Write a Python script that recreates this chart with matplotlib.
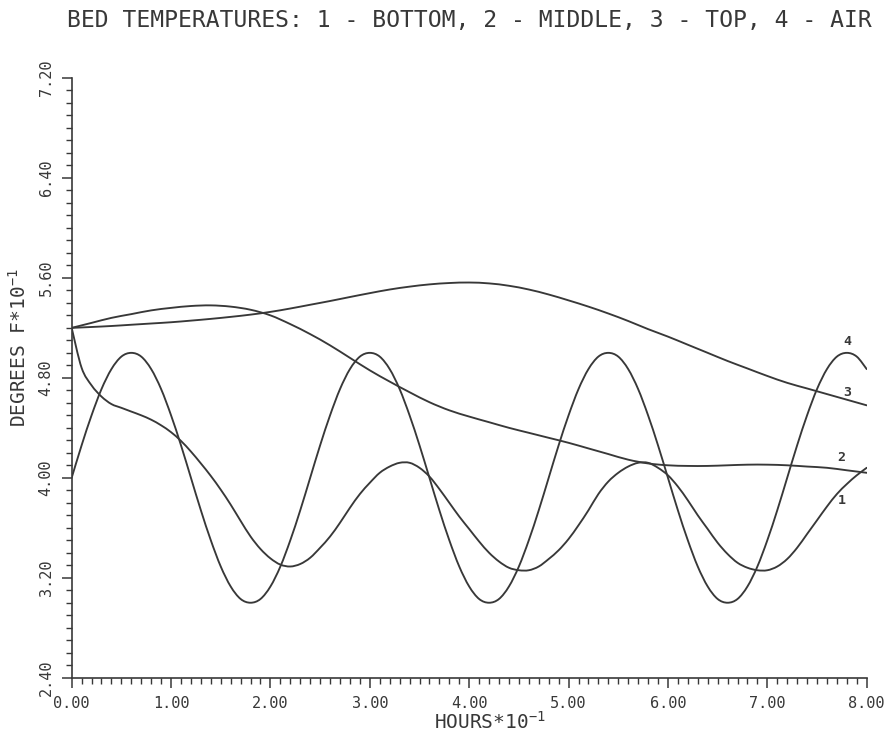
import numpy as np
import matplotlib
matplotlib.use("Agg")
import matplotlib.pyplot as plt
from matplotlib.ticker import MultipleLocator, FormatStrFormatter
from matplotlib.path import Path
from matplotlib.patches import PathPatch

# ---- data ----
hours_fine = [round(0.1 * i, 1) for i in range(81)]
hours_coarse = [round(0.2 * i, 1) for i in range(41)]

bottom = [5.20, 4.88, 4.74, 4.65, 4.59, 4.56, 4.53, 4.50, 4.465, 4.42,
          4.365, 4.295, 4.21, 4.115, 4.015, 3.905, 3.785, 3.655, 3.53, 3.43,
          3.355, 3.305, 3.29, 3.31, 3.36, 3.44, 3.53, 3.64, 3.76, 3.87,
          3.96, 4.04, 4.09, 4.12, 4.12, 4.08, 4.01, 3.91, 3.80, 3.69,
          3.59, 3.49, 3.40, 3.33, 3.28, 3.26, 3.26, 3.29, 3.35, 3.42,
          3.51, 3.62, 3.74, 3.87, 3.97, 4.04, 4.09, 4.12, 4.12, 4.08,
          4.02, 3.93, 3.82, 3.70, 3.59, 3.48, 3.39, 3.32, 3.28, 3.26,
          3.26, 3.29, 3.35, 3.44, 3.55, 3.66, 3.77, 3.87, 3.95, 4.02,
          4.08]

middle = [5.20, 5.24, 5.28, 5.31, 5.34, 5.36, 5.375, 5.38, 5.37, 5.345,
          5.30, 5.23, 5.15, 5.06, 4.96, 4.86, 4.77, 4.685, 4.605, 4.54,
          4.49, 4.445, 4.40, 4.36, 4.32, 4.28, 4.235, 4.19, 4.145, 4.115,
          4.10, 4.095, 4.095, 4.10, 4.105, 4.105, 4.10, 4.09, 4.08, 4.06,
          4.04]

top = [5.20, 5.207, 5.215, 5.225, 5.235, 5.245, 5.258, 5.272, 5.288, 5.306,
       5.328, 5.355, 5.385, 5.415, 5.447, 5.478, 5.507, 5.53, 5.548, 5.559,
       5.563, 5.556, 5.537, 5.507, 5.467, 5.42, 5.37, 5.315, 5.255, 5.19,
       5.13, 5.065, 5.00, 4.935, 4.875, 4.815, 4.76, 4.715, 4.67, 4.625,
       4.58]

air = [4.00, 4.26, 4.50, 4.71, 4.87, 4.97, 5.00, 4.97, 4.87, 4.71,
       4.50, 4.26, 4.00, 3.74, 3.50, 3.29, 3.13, 3.03, 3.00, 3.03,
       3.13, 3.29, 3.50, 3.74, 4.00, 4.26, 4.50, 4.71, 4.87, 4.97,
       5.00, 4.97, 4.87, 4.71, 4.50, 4.26, 4.00, 3.74, 3.50, 3.29,
       3.13, 3.03, 3.00, 3.03, 3.13, 3.29, 3.50, 3.74, 4.00, 4.26,
       4.50, 4.71, 4.87, 4.97, 5.00, 4.97, 4.87, 4.71, 4.50, 4.26,
       4.00, 3.74, 3.50, 3.29, 3.13, 3.03, 3.00, 3.03, 3.13, 3.29,
       3.50, 3.74, 4.00, 4.26, 4.50, 4.71, 4.87, 4.97, 5.00, 4.97,
       4.87]

curve_labels = ["1", "2", "3", "4"]
label_x = [7.75, 7.74, 7.80, 7.80]
label_y = [3.82, 4.16, 4.68, 5.09]

title = "BED TEMPERATURES: 1 - BOTTOM, 2 - MIDDLE, 3 - TOP, 4 - AIR"
xlabel = r"HOURS*10$^{\mathregular{-1}}$"
ylabel = r"DEGREES F*10$^{\mathregular{-1}}$"

# ---- figure ----
ink = "#383838"
mono = "DejaVu Sans Mono"
fig = plt.figure(figsize=(8.96, 7.40), dpi=100)
ax = fig.add_axes([0.080, 0.0842, 0.8873, 0.8104])


def smooth_path(xs, ys):
    """Smooth (Catmull-Rom style) Bezier path passing through the data points."""
    p = np.column_stack([xs, ys]).astype(float)
    n = len(p)
    verts = [p[0]]
    codes = [Path.MOVETO]
    for i in range(n - 1):
        p0 = p[i - 1] if i > 0 else p[i]
        p1 = p[i]
        p2 = p[i + 1]
        p3 = p[i + 2] if i + 2 < n else p[i + 1]
        c1 = p1 + (p2 - p0) / 6.0
        c2 = p2 - (p3 - p1) / 6.0
        verts += [c1, c2, p2]
        codes += [Path.CURVE4] * 3
    return Path(verts, codes)


lw = 1.35
for xs, ys in [(hours_fine, bottom), (hours_coarse, middle),
               (hours_coarse, top), (hours_fine, air)]:
    ax.add_patch(PathPatch(smooth_path(xs, ys), fill=False, edgecolor=ink,
                           lw=lw, transform=ax.transData,
                           capstyle="round", joinstyle="round"))

for t, x, y in zip(curve_labels, label_x, label_y):
    ax.text(x, y, t, fontsize=9.5, color=ink, ha="center", va="center",
            family=mono, fontweight="bold")

ax.set_xlim(0, 8)
ax.set_ylim(2.4, 7.2)
ax.xaxis.set_major_locator(MultipleLocator(1.0))
ax.xaxis.set_minor_locator(MultipleLocator(0.1))
ax.yaxis.set_major_locator(MultipleLocator(0.8))
ax.yaxis.set_minor_locator(MultipleLocator(0.1))
ax.xaxis.set_major_formatter(FormatStrFormatter("%.2f"))
ax.yaxis.set_major_formatter(FormatStrFormatter("%.2f"))

for s in ["top", "right"]:
    ax.spines[s].set_visible(False)
for s in ["left", "bottom"]:
    ax.spines[s].set_color(ink)
    ax.spines[s].set_linewidth(1.2)

ax.tick_params(axis="both", which="major", direction="out", length=7,
               width=1.1, color=ink, labelcolor=ink, labelsize=11, pad=6)
ax.tick_params(axis="both", which="minor", direction="out", length=4,
               width=1.0, color=ink)
for lab in ax.get_yticklabels():
    lab.set_rotation(90)
    lab.set_va("center")
    lab.set_family(mono)
for lab in ax.get_xticklabels():
    lab.set_family(mono)

ax.set_xlabel(xlabel, fontsize=14, color=ink, family=mono)
ax.set_ylabel(ylabel, fontsize=14, color=ink, family=mono)
ax.xaxis.set_label_coords(0.526, -0.074)
ax.yaxis.set_label_coords(-0.066, 0.551)
ax.xaxis.label.set_va("center")
ax.yaxis.label.set_va("center")

fig.text(469 / 896, 1 - 21 / 740, title, ha="center", va="center",
         fontsize=16.6, color=ink, family=mono)

fig.savefig("out.png", dpi=100, facecolor="white")
